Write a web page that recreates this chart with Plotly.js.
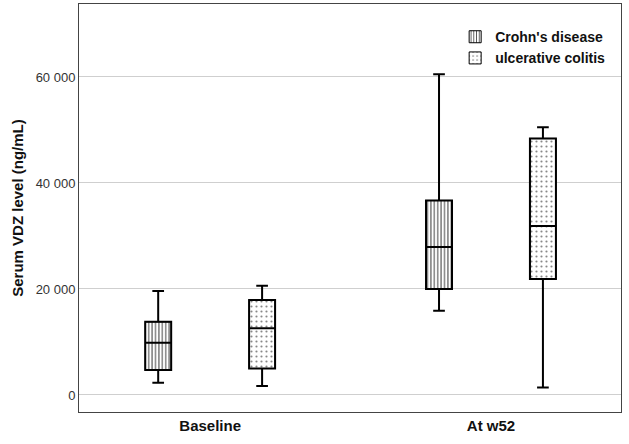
<!DOCTYPE html>
<html>
<head>
<meta charset="utf-8">
<script src="https://cdn.plot.ly/plotly-3.0.1.min.js"></script>
<style>html,body{margin:0;padding:0;background:#fff;}#chart{width:629px;height:444px;}</style>
</head>
<body>
<div id="chart"></div>
<script>
// Data
var categories = ['Baseline', 'At w52'];
var seriesNames = ["Crohn's disease", 'ulcerative colitis'];

var cdLower  = [2300, 15900];
var cdQ1     = [4700, 20000];
var cdMedian = [9850, 27900];
var cdQ3     = [13800, 36700];
var cdUpper  = [19600, 60500];

var ucLower  = [1700, 1400];
var ucQ1     = [5000, 21900];
var ucMedian = [12600, 31900];
var ucQ3     = [17900, 48400];
var ucUpper  = [20600, 50500];

function diff(a, b) { return a.map(function (v, i) { return v - b[i]; }); }

var font = 'Arial, "Liberation Sans", sans-serif';

var boxCommon = {
  type: 'box', showlegend: false, hoverinfo: 'skip',
  fillcolor: 'rgba(0,0,0,0)', line: {color: '#000', width: 2},
  whiskerwidth: 0.45, boxpoints: false, alignmentgroup: 'boxes'
};

var traces = [
  // patterned fills (drawn beneath boxes)
  {type: 'bar', name: seriesNames[0], x: categories, base: cdQ1, y: diff(cdQ3, cdQ1),
   width: 0.0925, offset: -0.231, hoverinfo: 'skip',
   marker: {color: '#ffffff', line: {color: '#000', width: 1},
            pattern: {shape: '|', size: 3.4, solidity: 0.3, fgcolor: '#444', bgcolor: '#ffffff'}}},
  {type: 'bar', name: seriesNames[1], x: categories, base: ucQ1, y: diff(ucQ3, ucQ1),
   width: 0.0925, offset: 0.139, hoverinfo: 'skip',
   marker: {color: '#ffffff', line: {color: '#000', width: 1},
            pattern: {shape: '.', size: 5, solidity: 0.15, fgcolor: '#888', bgcolor: '#ffffff'}}},
  Object.assign({}, boxCommon, {name: seriesNames[0], x: categories, offsetgroup: 'cd',
    q1: cdQ1, median: cdMedian, q3: cdQ3, lowerfence: cdLower, upperfence: cdUpper}),
  Object.assign({}, boxCommon, {name: seriesNames[1], x: categories, offsetgroup: 'uc',
    q1: ucQ1, median: ucMedian, q3: ucQ3, lowerfence: ucLower, upperfence: ucUpper})
];

var layout = {
  width: 629, height: 444,
  margin: {l: 79, r: 8, t: 4, b: 32},
  paper_bgcolor: '#fff', plot_bgcolor: '#fff',
  separators: '. ',
  font: {family: font, color: '#222'},
  boxmode: 'group', boxgap: 0.26, boxgroupgap: 0.75,
  barmode: 'overlay',
  showlegend: true,
  legend: {x: 0.694, y: 0.958, xanchor: 'left', yanchor: 'top',
           bgcolor: 'rgba(255,255,255,0)', borderwidth: 0,
           font: {family: font, size: 14, color: '#111', weight: 'bold'},
           tracegroupgap: 0},
  xaxis: {type: 'category', range: [-0.467, 1.463], showgrid: false, zeroline: false,
          showline: true, mirror: true, linecolor: '#444', linewidth: 1, ticks: '',
          tickfont: {family: font, size: 15, color: '#111', weight: 'bold'}},
  yaxis: {range: [-3210, 73770], tickvals: [0, 20000, 40000, 60000], tickformat: ',d',
          showgrid: true, gridcolor: '#cfcfcf', gridwidth: 1, zeroline: false,
          showline: true, mirror: true, linecolor: '#444', linewidth: 1, ticks: '',
          tickfont: {family: font, size: 13, color: '#333'},
          title: {text: 'Serum VDZ level (ng/mL)', standoff: 8,
                  font: {family: font, size: 15, color: '#111', weight: 'bold'}}}
};

Plotly.newPlot('chart', traces, layout, {displayModeBar: false, staticPlot: true});
</script>
</body>
</html>
